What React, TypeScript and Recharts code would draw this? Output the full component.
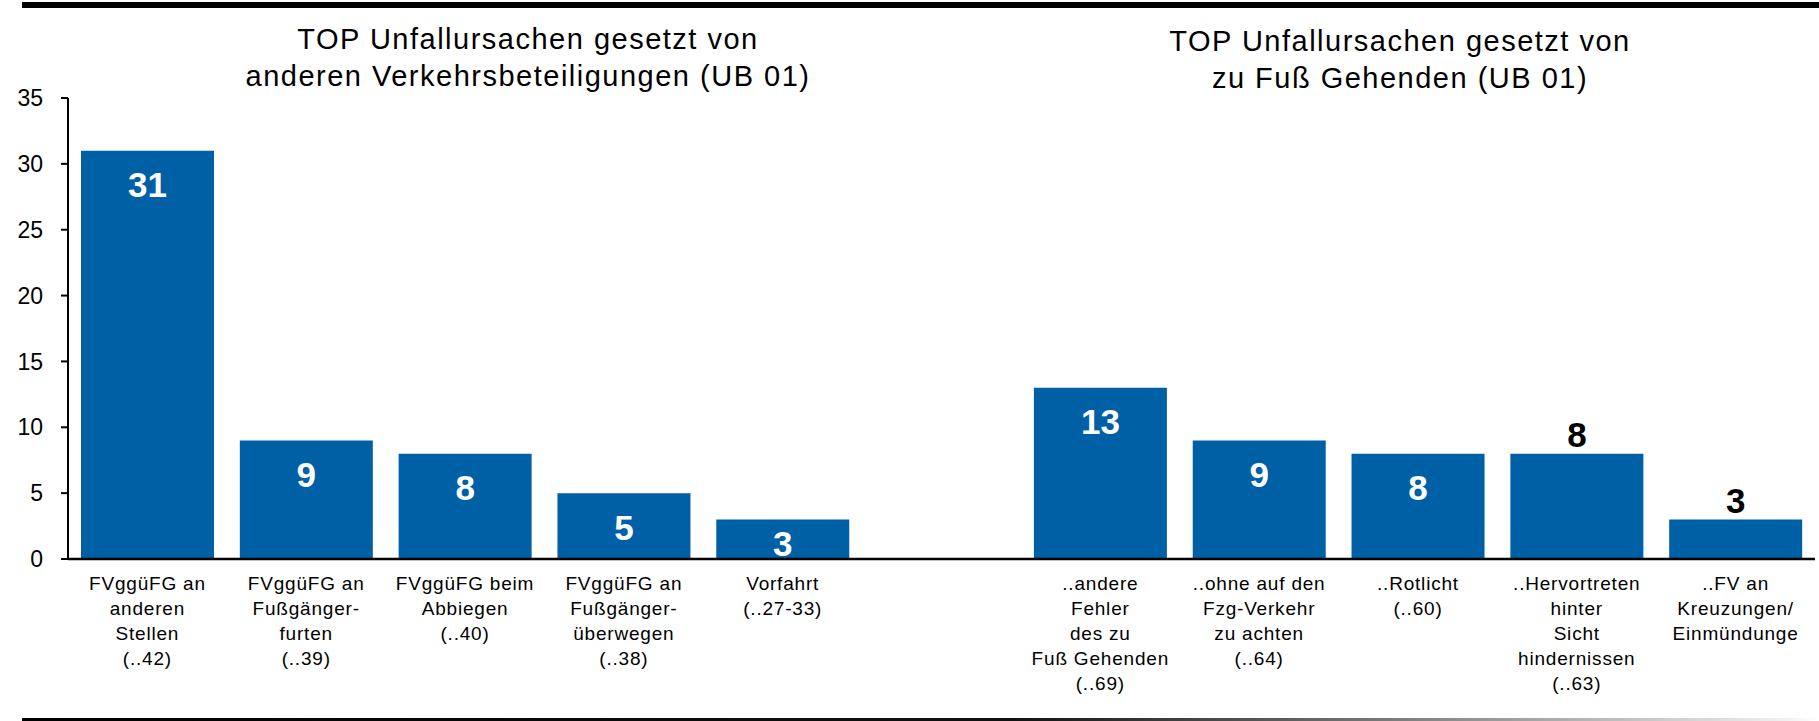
import { BarChart, Bar, XAxis, YAxis, LabelList } from "recharts";

// left group: causes set by other road users
const leftCategories = [
  "FVggüFG an\nanderen\nStellen\n(..42)",
  "FVggüFG an\nFußgänger-\nfurten\n(..39)",
  "FVggüFG beim\nAbbiegen\n(..40)",
  "FVggüFG an\nFußgänger-\nüberwegen\n(..38)",
  "Vorfahrt\n(..27-33)",
];
const leftValues = [31, 9, 8, 5, 3];

// right group: causes set by pedestrians
const rightCategories = [
  "..andere\nFehler\ndes zu\nFuß Gehenden\n(..69)",
  "..ohne auf den\nFzg-Verkehr\nzu achten\n(..64)",
  "..Rotlicht\n(..60)",
  "..Hervortreten\nhinter\nSicht\nhindernissen\n(..63)",
  "..FV an\nKreuzungen/\nEinmündunge",
];
const rightValues = [13, 9, 8, 8, 3];

const yTicks = [0, 5, 10, 15, 20, 25, 30, 35];

const leftTitle = ["TOP Unfallursachen gesetzt von", "anderen Verkehrsbeteiligungen (UB 01)"];
const rightTitle = ["TOP Unfallursachen gesetzt von", "zu Fuß Gehenden (UB 01)"];

const data = [
  ...leftCategories.map((label, i) => ({ label, value: leftValues[i] })),
  { label: "", value: null },
  ...rightCategories.map((label, i) => ({ label, value: rightValues[i] })),
];

// label list indexes only the drawn bars (the empty gap is skipped);
// these two get their value above the bar in black
const OUTSIDE_LABELS = new Set([leftCategories.length + 3, leftCategories.length + 4]);

const FONT = '"Liberation Sans", Arial, sans-serif';
const BLUE = "#0060A6";

const CategoryTick = ({ x, y, payload }: any) => {
  const lines = String(payload.value).split("\n");
  return (
    <text
      x={x}
      y={y}
      textAnchor="middle"
      fontSize={19}
      letterSpacing={0.8}
      fill="#000"
      fontFamily={FONT}
    >
      {lines.map((line, i) => (
        <tspan key={i} x={x} y={y + 31 + i * 25}>
          {line}
        </tspan>
      ))}
    </text>
  );
};

const ValueLabel = (props: any) => {
  const { x, y, width, height, value, index } = props;
  if (value == null) return null;
  const cx = Number(x) + Number(width) / 2;
  const top = Number(y);
  const bottom = top + Number(height);
  const outside = OUTSIDE_LABELS.has(index);
  const cy = outside ? top - 19 : Math.min(top + 34, bottom - 16);
  return (
    <text
      x={cx}
      y={cy + 12.5}
      textAnchor="middle"
      fontSize={35}
      fontWeight="bold"
      fill={outside ? "#000" : "#fff"}
      fontFamily={FONT}
    >
      {value}
    </text>
  );
};

function Title({ x, y, lines }: { x: number; y: number; lines: string[] }) {
  return (
    <text x={x} y={y} textAnchor="middle" fontSize={29} letterSpacing={1.5} fill="#000" fontFamily={FONT}>
      {lines.map((line, i) => (
        <tspan key={i} x={x} y={y + i * 37}>
          {line}
        </tspan>
      ))}
    </text>
  );
}

export default function App() {
  return (
    <div
      style={{
        position: "absolute",
        left: 0,
        top: 0,
        width: 1819,
        height: 721,
        background: "#fff",
        fontFamily: FONT,
      }}
    >
      <BarChart
        width={1819}
        height={721}
        data={data}
        margin={{ top: 98, right: 4, left: 0, bottom: 0 }}
      >
        <XAxis
          dataKey="label"
          interval={0}
          height={162}
          tickLine={false}
          tickSize={0}
          tickMargin={0}
          stroke="#000"
          strokeWidth={2.5}
          tick={<CategoryTick />}
        />
        <YAxis
          width={68}
          domain={[0, 35]}
          ticks={yTicks}
          interval={0}
          tickSize={7}
          tickMargin={18}
          stroke="#000"
          strokeWidth={2}
          tick={{ fill: "#000", fontSize: 23, fontFamily: FONT }}
        />
        <Bar dataKey="value" fill={BLUE} barSize={133} isAnimationActive={false}>
          <LabelList dataKey="value" content={<ValueLabel />} />
        </Bar>
      </BarChart>
      <svg
        width={1819}
        height={721}
        style={{ position: "absolute", left: 0, top: 0, pointerEvents: "none" }}
      >
        <defs>
          <linearGradient id="bottomRule" x1="0" x2="1" y1="0" y2="0">
            <stop offset="0" stopColor="#000" />
            <stop offset="0.55" stopColor="#111" />
            <stop offset="0.77" stopColor="#7f7f7f" />
            <stop offset="0.98" stopColor="#f0f0f0" />
            <stop offset="1" stopColor="#fff" />
          </linearGradient>
        </defs>
        <rect x={22} y={2} width={1797} height={6} fill="#000" />
        <rect x={22} y={718} width={1797} height={3} fill="url(#bottomRule)" />
        <Title x={528} y={49} lines={leftTitle} />
        <Title x={1400} y={51} lines={rightTitle} />
      </svg>
    </div>
  );
}
